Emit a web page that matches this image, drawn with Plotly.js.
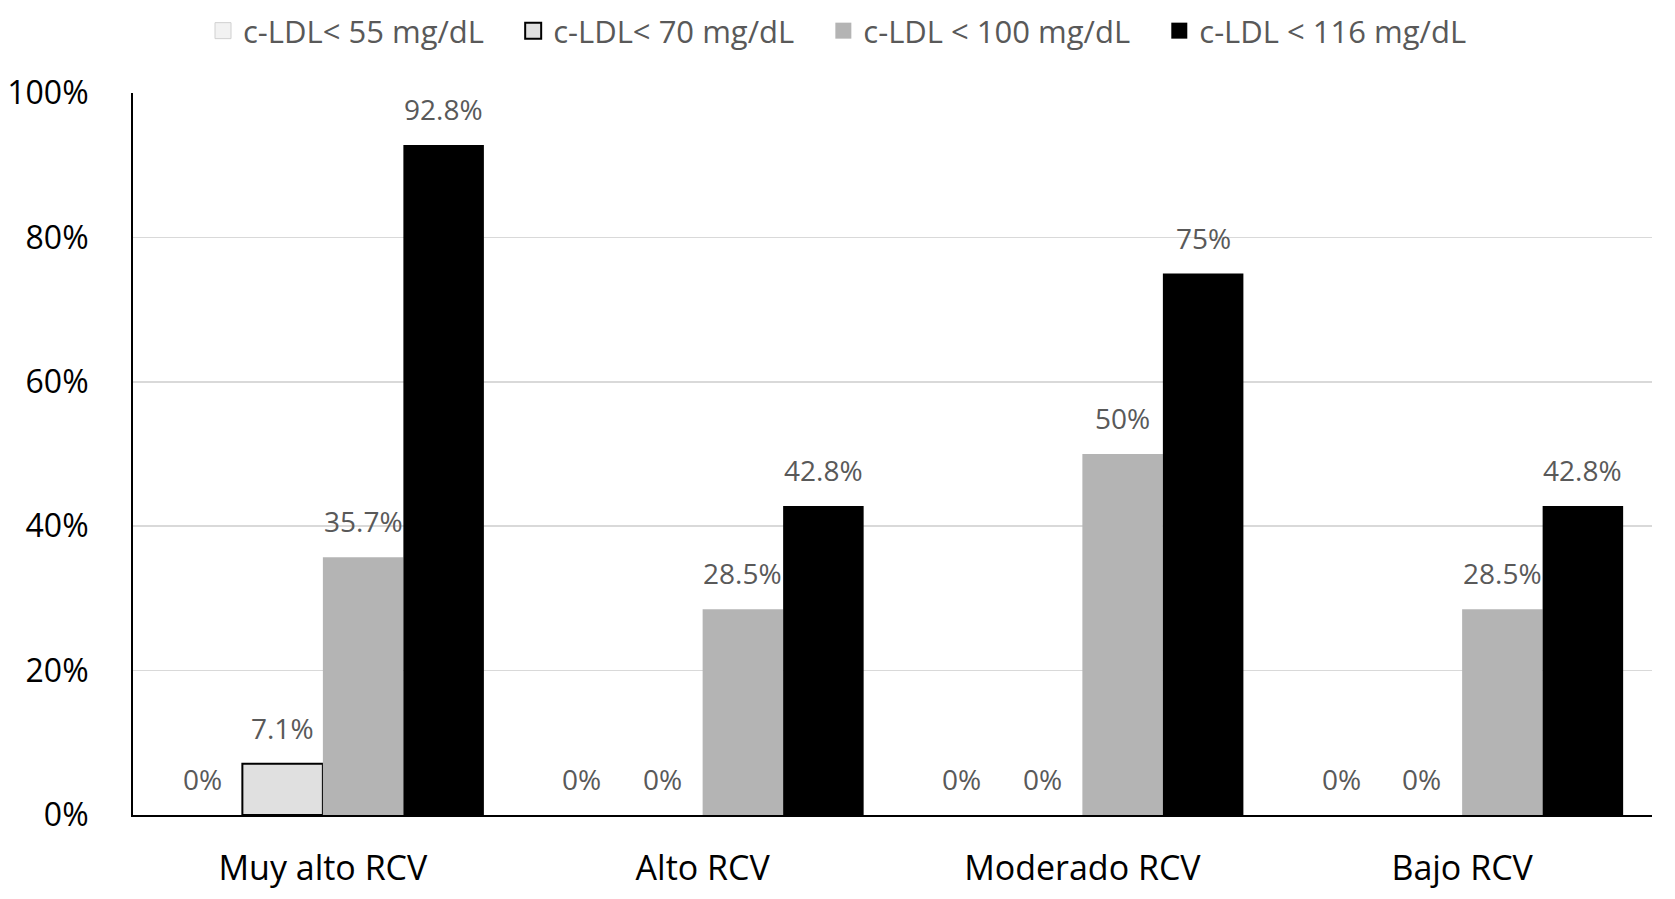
<!DOCTYPE html>
<html>
<head>
<meta charset="utf-8">
<script src="https://cdn.plot.ly/plotly-3.0.1.min.js"></script>
<style>
  html, body { margin: 0; padding: 0; background: #ffffff; }
  #chart { width: 1675px; height: 899px; }
</style>
</head>
<body>
<div id="chart"></div>
<script>
// ---- data ----
const categories = ["Muy alto RCV", "Alto RCV", "Moderado RCV", "Bajo RCV"];
const seriesNames = ["c-LDL< 55 mg/dL", "c-LDL< 70 mg/dL", "c-LDL < 100 mg/dL", "c-LDL < 116 mg/dL"];
const ldl55  = [0, 0, 0, 0];
const ldl70  = [7.1, 0, 0, 0];
const ldl100 = [35.7, 28.5, 50, 28.5];
const ldl116 = [92.8, 42.8, 75, 42.8];
const yTicks = [0, 20, 40, 60, 80, 100];

// ---- styles ----
const FONT = "Open Sans, Lato, sans-serif";
const fills = ["#f2f2f2", "#e0e0e0", "#b4b4b4", "#000000"];
const outlines = ["#d0d0d0", "#000000", "#b4b4b4", "#000000"];
const outlineW = [1, 2, 0, 0];
const bargap = 0.152;
const LEGEND_PAD = "\u00a0\u00a0\u00a0"; // extra spacing between legend entries

const allSeries = [ldl55, ldl70, ldl100, ldl116];
const barTraces = allSeries.map((vals, i) => ({
  type: "bar",
  name: seriesNames[i],
  x: categories,
  y: vals,
  showlegend: false,
  marker: {
    color: fills[i],
    line: { color: outlines[i], width: vals.map(v => (v > 0 ? outlineW[i] : 0)) }
  },
  hoverinfo: "skip"
}));

// legend-only entries (larger square swatches)
const legendTraces = allSeries.map((vals, i) => ({
  type: "scatter",
  mode: "markers",
  name: seriesNames[i] + (i < allSeries.length - 1 ? LEGEND_PAD : ""),
  x: [null], y: [null],
  showlegend: true,
  marker: {
    symbol: "square", size: 16, color: fills[i],
    line: { color: outlines[i], width: i === 1 ? 2 : (i === 0 ? 1 : 0) }
  },
  hoverinfo: "skip"
}));

// value labels above each bar (positioned in data units via the category axis)
const nS = allSeries.length;
const barW = (1 - bargap) / nS;
const annotations = [];
allSeries.forEach((vals, i) => {
  vals.forEach((v, c) => {
    annotations.push({
      xref: "x", yref: "y",
      x: c + (i - (nS - 1) / 2) * barW,
      y: v,
      text: v + "%",
      showarrow: false,
      yanchor: "middle",
      yshift: 36,
      font: { family: FONT, size: 28, color: "#595959" }
    });
  });
});

const layout = {
  width: 1675, height: 899,
  paper_bgcolor: "#ffffff", plot_bgcolor: "#ffffff",
  margin: { l: 133, r: 23, t: 93, b: 84 },
  barmode: "group",
  bargap: bargap,
  bargroupgap: 0,
  showlegend: true,
  legend: {
    orientation: "h",
    xref: "container", yref: "container",
    x: 0.5, xanchor: "center",
    y: 1 - 31 / 899, yanchor: "middle",
    font: { family: FONT, size: 31, color: "#595959" },
    itemsizing: "trace",
    traceorder: "normal"
  },
  xaxis: {
    type: "category",
    showgrid: false,
    showline: true, linecolor: "#000000", linewidth: 2,
    ticks: "",
    ticklabelstandoff: 22,
    tickfont: { family: FONT, size: 34, color: "#000000" },
    fixedrange: true
  },
  yaxis: {
    range: [0, 100],
    tickvals: yTicks,
    ticktext: yTicks.map(t => t + "%"),
    showgrid: true, gridcolor: "#d9d9d9", gridwidth: 1.5,
    zeroline: false,
    showline: true, linecolor: "#000000", linewidth: 2,
    ticks: "",
    ticklabelstandoff: 36,
    tickfont: { family: FONT, size: 32, color: "#000000" },
    fixedrange: true
  },
  annotations: annotations
};

Plotly.newPlot("chart", barTraces.concat(legendTraces), layout, { displayModeBar: false, staticPlot: true });
</script>
</body>
</html>
